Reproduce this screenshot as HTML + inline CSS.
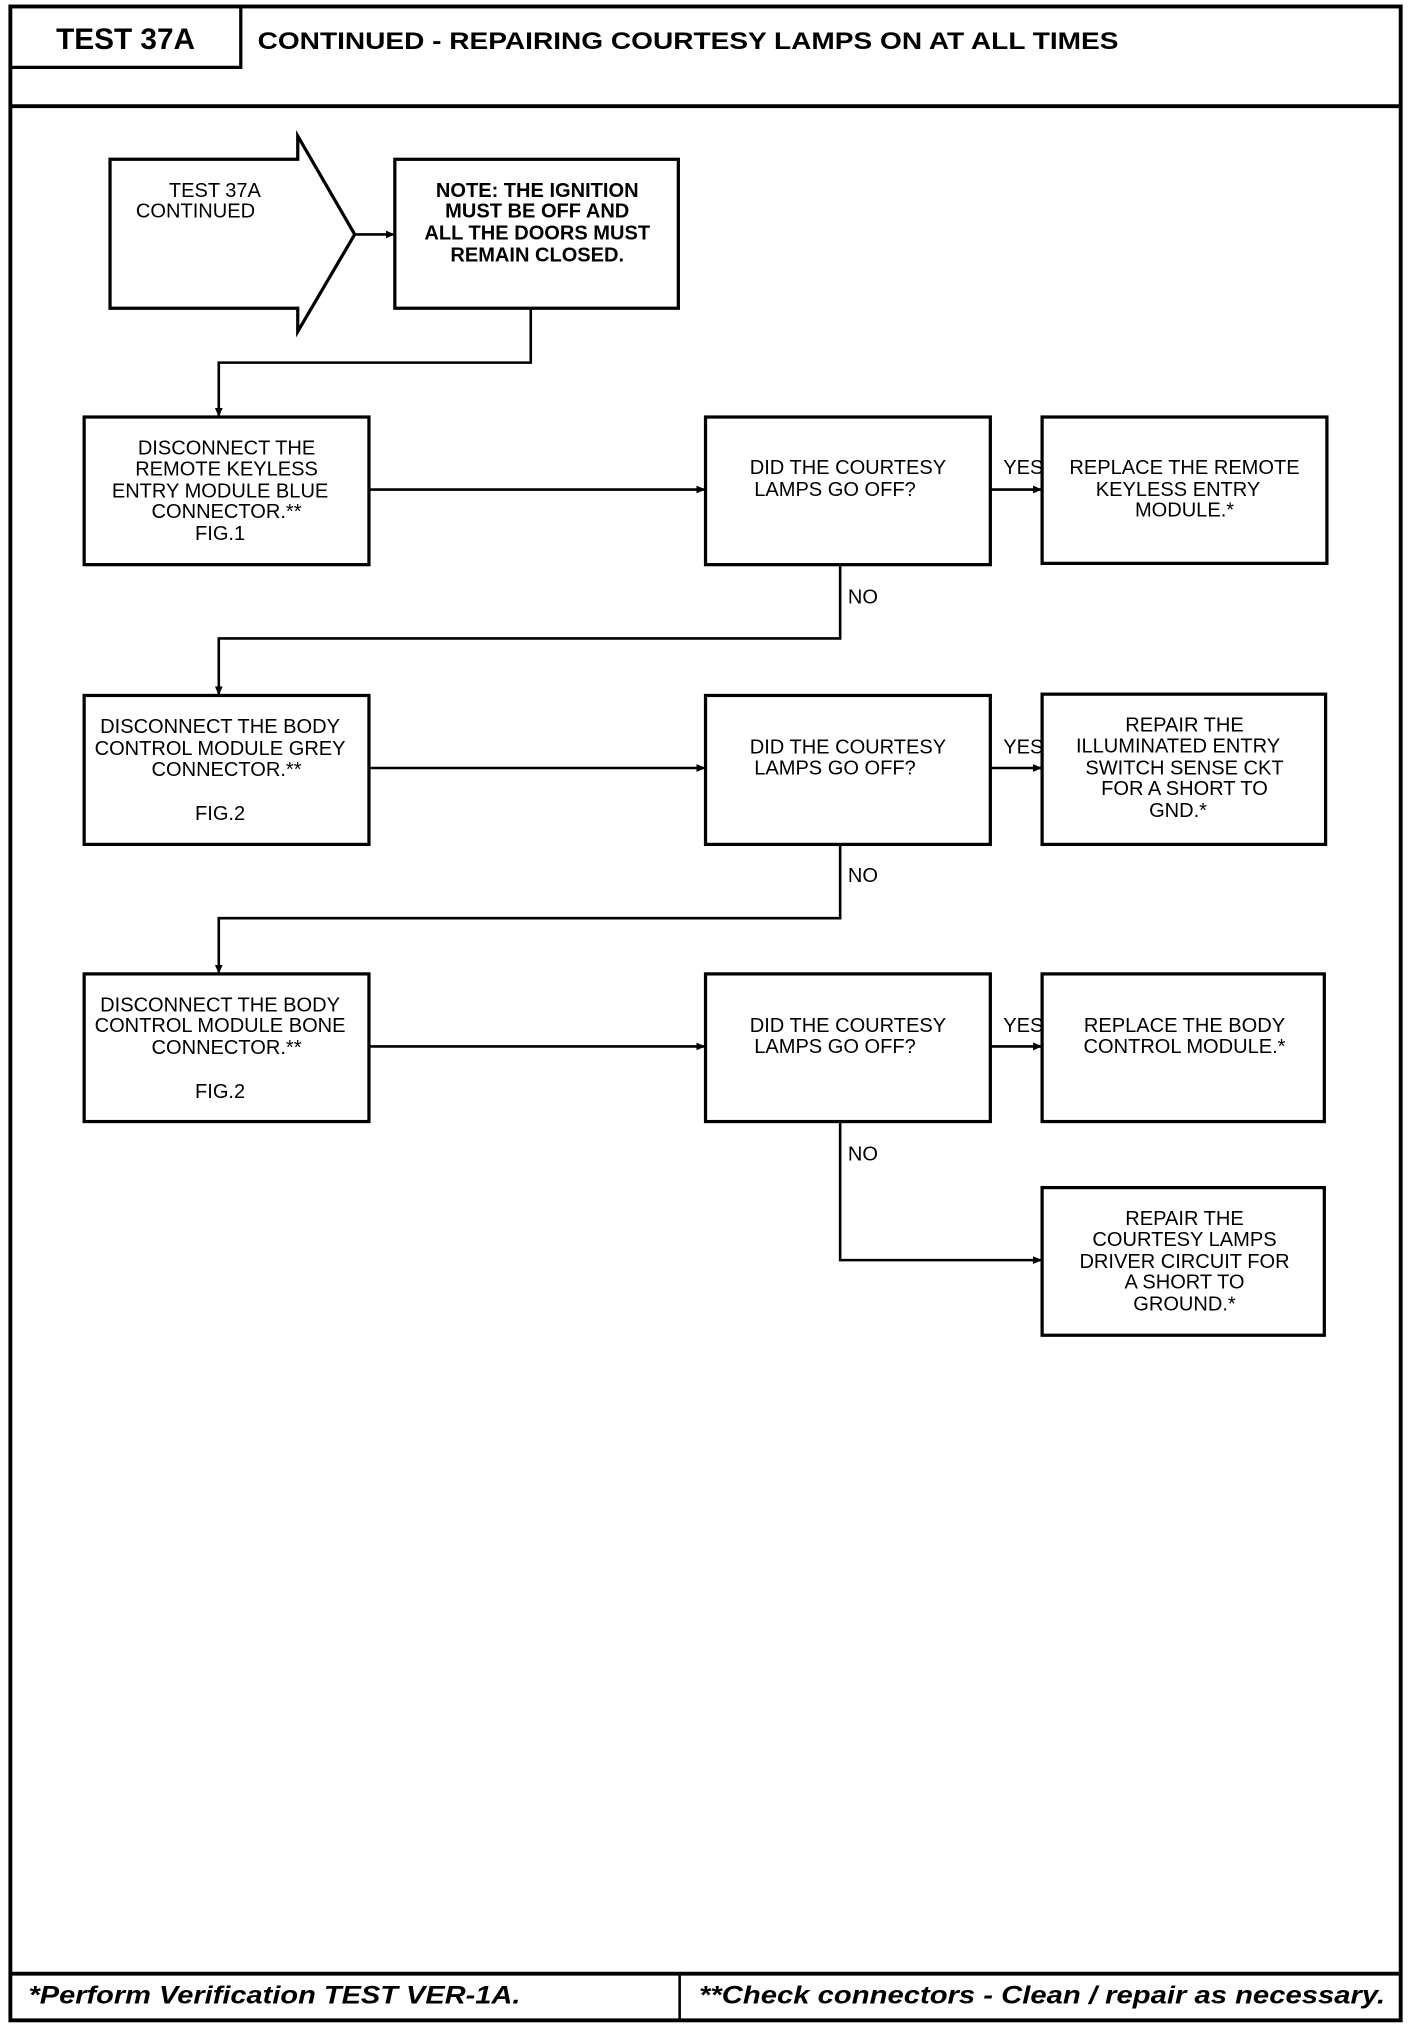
<!DOCTYPE html>
<html><head><meta charset="utf-8"><style>
html,body{margin:0;padding:0;background:#fff;}
svg{display:block;}
.t{font-family:"Liberation Sans",sans-serif;font-size:15.5px;fill:#000;text-anchor:middle;}
.l{font-family:"Liberation Sans",sans-serif;font-size:15.5px;fill:#000;}
</style></head><body>
<svg width="1424" height="2032" viewBox="0 0 1100 1569" preserveAspectRatio="none" xmlns="http://www.w3.org/2000/svg">
<defs><marker id="a" markerWidth="8" markerHeight="8" refX="7" refY="4" orient="auto" markerUnits="userSpaceOnUse"><path d="M0,1 L7,4 L0,7 Z" fill="#000"/></marker></defs>
<g fill="none" stroke="#000">
<rect x="8" y="5" width="1074" height="1555" stroke-width="3"/>
<line x1="8" y1="82" x2="1082" y2="82" stroke-width="3"/>
<polyline points="8,52 186,52 186,5" stroke-width="2.5"/>
<line x1="8" y1="1524" x2="1082" y2="1524" stroke-width="3"/>
<line x1="525" y1="1524" x2="525" y2="1560" stroke-width="2"/>
<path d="M85,123 L230,123 L230,105 L274,181 L230,256 L230,238 L85,238 Z" stroke-width="2.5"/>
<rect x="305" y="123" width="219" height="115" stroke-width="2.5"/>
<rect x="65" y="322" width="220" height="114" stroke-width="2.5"/>
<rect x="545" y="322" width="220" height="114" stroke-width="2.5"/>
<rect x="805" y="322" width="220" height="113" stroke-width="2.5"/>
<rect x="65" y="537" width="220" height="115" stroke-width="2.5"/>
<rect x="545" y="537" width="220" height="115" stroke-width="2.5"/>
<rect x="805" y="536" width="219" height="116" stroke-width="2.5"/>
<rect x="65" y="752" width="220" height="114" stroke-width="2.5"/>
<rect x="545" y="752" width="220" height="114" stroke-width="2.5"/>
<rect x="805" y="752" width="218" height="114" stroke-width="2.5"/>
<rect x="805" y="917" width="218" height="114" stroke-width="2.5"/>
<g stroke-width="2">
<line x1="274" y1="181" x2="305" y2="181" marker-end="url(#a)"/>
<polyline points="410,238 410,280 169,280 169,322" marker-end="url(#a)"/>
<line x1="285" y1="378" x2="545" y2="378" marker-end="url(#a)"/>
<line x1="765" y1="378" x2="805" y2="378" marker-end="url(#a)"/>
<polyline points="649,436 649,493 169,493 169,537" marker-end="url(#a)"/>
<line x1="285" y1="593" x2="545" y2="593" marker-end="url(#a)"/>
<line x1="765" y1="593" x2="805" y2="593" marker-end="url(#a)"/>
<polyline points="649,652 649,709 169,709 169,752" marker-end="url(#a)"/>
<line x1="285" y1="808" x2="545" y2="808" marker-end="url(#a)"/>
<line x1="765" y1="808" x2="805" y2="808" marker-end="url(#a)"/>
<polyline points="649,866 649,973 805,973" marker-end="url(#a)"/>
</g>
</g>
<text x="97" y="38" style="font-family:'Liberation Sans',sans-serif;font-weight:bold;font-size:23px;text-anchor:middle">TEST 37A</text>
<text x="199" y="38" style="font-family:'Liberation Sans',sans-serif;font-weight:bold;font-size:18.5px" textLength="665" lengthAdjust="spacingAndGlyphs">CONTINUED - REPAIRING COURTESY LAMPS ON AT ALL TIMES</text>
<text x="22" y="1547" style="font-family:'Liberation Sans',sans-serif;font-weight:bold;font-style:italic;font-size:19px" textLength="380" lengthAdjust="spacingAndGlyphs">*Perform Verification TEST VER-1A.</text>
<text x="540" y="1547" style="font-family:'Liberation Sans',sans-serif;font-weight:bold;font-style:italic;font-size:19px" textLength="530" lengthAdjust="spacingAndGlyphs">**Check connectors - Clean / repair as necessary.</text>
<text class="t" x="166" y="152">TEST 37A</text>
<text class="l" x="105" y="168">CONTINUED</text>
<text class="t" x="415" y="152" font-weight="bold">NOTE: THE IGNITION</text>
<text class="t" x="415" y="168" font-weight="bold">MUST BE OFF AND</text>
<text class="t" x="415" y="185" font-weight="bold">ALL THE DOORS MUST</text>
<text class="t" x="415" y="202" font-weight="bold">REMAIN CLOSED.</text>
<g class="t">
<text class="t" x="175" y="351">DISCONNECT THE</text>
<text class="t" x="175" y="367">REMOTE KEYLESS</text>
<text class="t" x="170" y="384">ENTRY MODULE BLUE</text>
<text class="t" x="175" y="400">CONNECTOR.**</text>
<text class="t" x="170" y="417">FIG.1</text>
<text class="t" x="655" y="366">DID THE COURTESY</text>
<text class="t" x="645" y="383">LAMPS GO OFF?</text>
<text class="t" x="915" y="366">REPLACE THE REMOTE</text>
<text class="t" x="910" y="383">KEYLESS ENTRY</text>
<text class="t" x="915" y="399">MODULE.*</text>
<text class="t" x="170" y="566">DISCONNECT THE BODY</text>
<text class="t" x="170" y="583">CONTROL MODULE GREY</text>
<text class="t" x="175" y="599">CONNECTOR.**</text>
<text class="t" x="170" y="633">FIG.2</text>
<text class="t" x="655" y="582">DID THE COURTESY</text>
<text class="t" x="645" y="598">LAMPS GO OFF?</text>
<text class="t" x="915" y="565">REPAIR THE</text>
<text class="t" x="910" y="581">ILLUMINATED ENTRY</text>
<text class="t" x="915" y="598">SWITCH SENSE CKT</text>
<text class="t" x="915" y="614">FOR A SHORT TO</text>
<text class="t" x="910" y="631">GND.*</text>
<text class="t" x="170" y="781">DISCONNECT THE BODY</text>
<text class="t" x="170" y="797">CONTROL MODULE BONE</text>
<text class="t" x="175" y="814">CONNECTOR.**</text>
<text class="t" x="170" y="848">FIG.2</text>
<text class="t" x="655" y="797">DID THE COURTESY</text>
<text class="t" x="645" y="813">LAMPS GO OFF?</text>
<text class="t" x="915" y="797">REPLACE THE BODY</text>
<text class="t" x="915" y="813">CONTROL MODULE.*</text>
<text class="t" x="915" y="946">REPAIR THE</text>
<text class="t" x="915" y="962">COURTESY LAMPS</text>
<text class="t" x="915" y="979">DRIVER CIRCUIT FOR</text>
<text class="t" x="915" y="995">A SHORT TO</text>
<text class="t" x="915" y="1012">GROUND.*</text>
</g>
<text class="l" x="775" y="366">YES</text>
<text class="l" x="775" y="582">YES</text>
<text class="l" x="775" y="797">YES</text>
<text class="l" x="655" y="466">NO</text>
<text class="l" x="655" y="681">NO</text>
<text class="l" x="655" y="896">NO</text>
</svg>
</body></html>
